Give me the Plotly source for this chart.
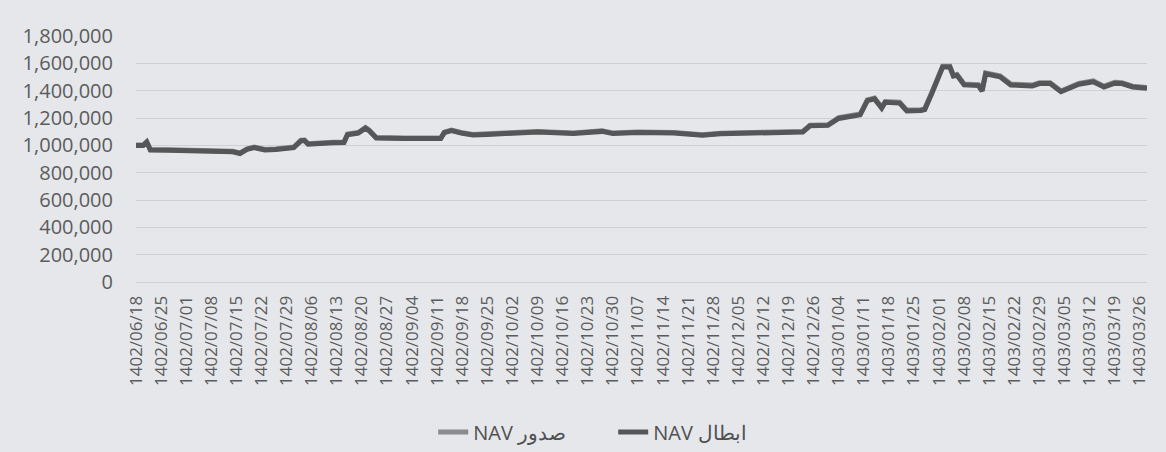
import plotly.graph_objects as go

# ---- data (Jalali dates) ----
dates = [
    "1402/06/18", "1402/06/20", "1402/06/21", "1402/06/22", "1402/06/27", "1402/07/02",
    "1402/07/07", "1402/07/14", "1402/07/16", "1402/07/18", "1402/07/20", "1402/07/23",
    "1402/07/26", "1402/07/29", "1402/08/01", "1402/08/03", "1402/08/04", "1402/08/05",
    "1402/08/07", "1402/08/12", "1402/08/15", "1402/08/16", "1402/08/19", "1402/08/21",
    "1402/08/22", "1402/08/24", "1402/09/02", "1402/09/12", "1402/09/13", "1402/09/15",
    "1402/09/18", "1402/09/21", "1402/09/25", "1402/09/30", "1402/10/09", "1402/10/19",
    "1402/10/27", "1402/10/30", "1402/11/07", "1402/11/17", "1402/11/25", "1402/11/30",
    "1402/12/08", "1402/12/12", "1402/12/23", "1402/12/25", "1403/01/01", "1403/01/04",
    "1403/01/07", "1403/01/10", "1403/01/12", "1403/01/14", "1403/01/16", "1403/01/17",
    "1403/01/21", "1403/01/23", "1403/01/27", "1403/01/28", "1403/01/30", "1403/02/01",
    "1403/02/02", "1403/02/04", "1403/02/05", "1403/02/06", "1403/02/08", "1403/02/12",
    "1403/02/13", "1403/02/14", "1403/02/17", "1403/02/18", "1403/02/21", "1403/02/27",
    "1403/02/29", "1403/03/01", "1403/03/04", "1403/03/06", "1403/03/09", "1403/03/13",
    "1403/03/16", "1403/03/19", "1403/03/21", "1403/03/24", "1403/03/28",
]

nav_issue = [
    1002000, 1002000, 1027000, 970000, 968000, 962000,
    957000, 957000, 944000, 974000, 987000, 970000,
    974000, 980000, 987000, 1037000, 1039000, 1012000,
    1017000, 1022000, 1024000, 1082000, 1094000, 1130000,
    1112000, 1057000, 1054000, 1054000, 1097000, 1112000,
    1092000, 1080000, 1084000, 1092000, 1102000, 1090000,
    1106000, 1090000, 1098000, 1094000, 1078000, 1088000,
    1092000, 1102000, 1102000, 1147000, 1150000, 1203000,
    1215000, 1229000, 1333000, 1346000, 1278000, 1321000,
    1315000, 1258000, 1261000, 1268000, 1388000, 1503000,
    1579000, 1579000, 1513000, 1518000, 1448000, 1443000,
    1403000, 1530000, 1518000, 1508000, 1448000, 1441000,
    1458000, 1458000, 1398000, 1421000, 1453000, 1471000,
    1433000, 1461000, 1458000, 1433000, 1423000,
]

nav_redeem = [
    998000, 998000, 1023000, 966000, 964000, 958000,
    953000, 953000, 940000, 970000, 983000, 966000,
    970000, 976000, 983000, 1033000, 1035000, 1008000,
    1013000, 1018000, 1020000, 1078000, 1090000, 1126000,
    1108000, 1053000, 1050000, 1050000, 1093000, 1108000,
    1088000, 1076000, 1080000, 1088000, 1098000, 1086000,
    1102000, 1086000, 1094000, 1090000, 1074000, 1084000,
    1088000, 1098000, 1098000, 1143000, 1146000, 1197000,
    1209000, 1223000, 1327000, 1340000, 1272000, 1315000,
    1309000, 1252000, 1255000, 1262000, 1382000, 1497000,
    1573000, 1573000, 1507000, 1512000, 1442000, 1437000,
    1397000, 1524000, 1512000, 1502000, 1442000, 1435000,
    1452000, 1452000, 1392000, 1415000, 1447000, 1465000,
    1427000, 1455000, 1452000, 1427000, 1417000,
]

tick_labels = [
    "1402/06/18", "1402/06/25", "1402/07/01", "1402/07/08", "1402/07/15", "1402/07/22",
    "1402/07/29", "1402/08/06", "1402/08/13", "1402/08/20", "1402/08/27", "1402/09/04",
    "1402/09/11", "1402/09/18", "1402/09/25", "1402/10/02", "1402/10/09", "1402/10/16",
    "1402/10/23", "1402/10/30", "1402/11/07", "1402/11/14", "1402/11/21", "1402/11/28",
    "1402/12/05", "1402/12/12", "1402/12/19", "1402/12/26", "1403/01/04", "1403/01/11",
    "1403/01/18", "1403/01/25", "1403/02/01", "1403/02/08", "1403/02/15", "1403/02/22",
    "1403/02/29", "1403/03/05", "1403/03/12", "1403/03/19", "1403/03/26",
]
last_date = "1403/03/28"

y_ticks = [0, 200000, 400000, 600000, 800000, 1000000, 1200000, 1400000, 1600000, 1800000]

series_names = ["NAV صدور", "NAV ابطال"]


# ---- Jalali calendar -> day number (for a linear x axis) ----
def month_len(year, month):
    if month <= 6:
        return 31
    if month <= 11:
        return 30
    return 30 if year in (1403,) else 29


def day_number(s):
    y, m, d = (int(p) for p in s.split("/"))
    n = 0
    for yy in range(1400, y):
        for mm in range(1, 13):
            n += month_len(yy, mm)
    for mm in range(1, m):
        n += month_len(y, mm)
    return n + d


origin = day_number(dates[0])
x_vals = [day_number(s) - origin for s in dates]
tick_vals = [day_number(s) - origin for s in tick_labels]
x_end = day_number(last_date) - origin

BG = "#e5e7eb"
TXT = "#5c5c5c"
GRID = "#cdd0d5"
FONT = "Open Sans"

fig = go.Figure()
fig.add_trace(go.Scatter(
    x=x_vals, y=nav_issue, mode="lines", name=series_names[0],
    line=dict(color="#8a8b8d", width=5),
))
fig.add_trace(go.Scatter(
    x=x_vals, y=nav_redeem, mode="lines", name=series_names[1],
    line=dict(color="#555658", width=5),
))

fig.update_layout(
    width=1166, height=452,
    paper_bgcolor=BG, plot_bgcolor=BG,
    margin=dict(l=136, r=19, t=36, b=170, autoexpand=False),
    font=dict(family=FONT, color=TXT, size=17),
    showlegend=True,
    legend=dict(
        orientation="h", x=0.472, xanchor="center", y=-0.61, yanchor="middle",
        font=dict(family=FONT, size=20, color="#505050"),
        bgcolor="rgba(0,0,0,0)", itemwidth=30, entrywidth=135,
    ),
    xaxis=dict(
        range=[0, x_end], tickmode="array", tickvals=tick_vals, ticktext=tick_labels,
        tickangle=-90, showgrid=False, zeroline=False, showline=True,
        linecolor=GRID, linewidth=1, ticks="", ticklabelstandoff=6,
        tickfont=dict(family=FONT, size=17, color=TXT), automargin=False,
    ),
    yaxis=dict(
        range=[0, 1800000], tickmode="array", tickvals=y_ticks, tickformat=",",
        showgrid=True, gridcolor=GRID, gridwidth=1, zeroline=False,
        ticks="", ticklabelstandoff=22, automargin=False,
        tickfont=dict(family=FONT, size=20, color=TXT),
    ),
)

fig.write_html(
    "out.html",
    config={"displayModeBar": False},
    post_script=(
        "document.body.style.margin='0';"
        "document.body.style.background='" + BG + "';"
        "document.body.style.overflow='hidden';"
    ),
)
